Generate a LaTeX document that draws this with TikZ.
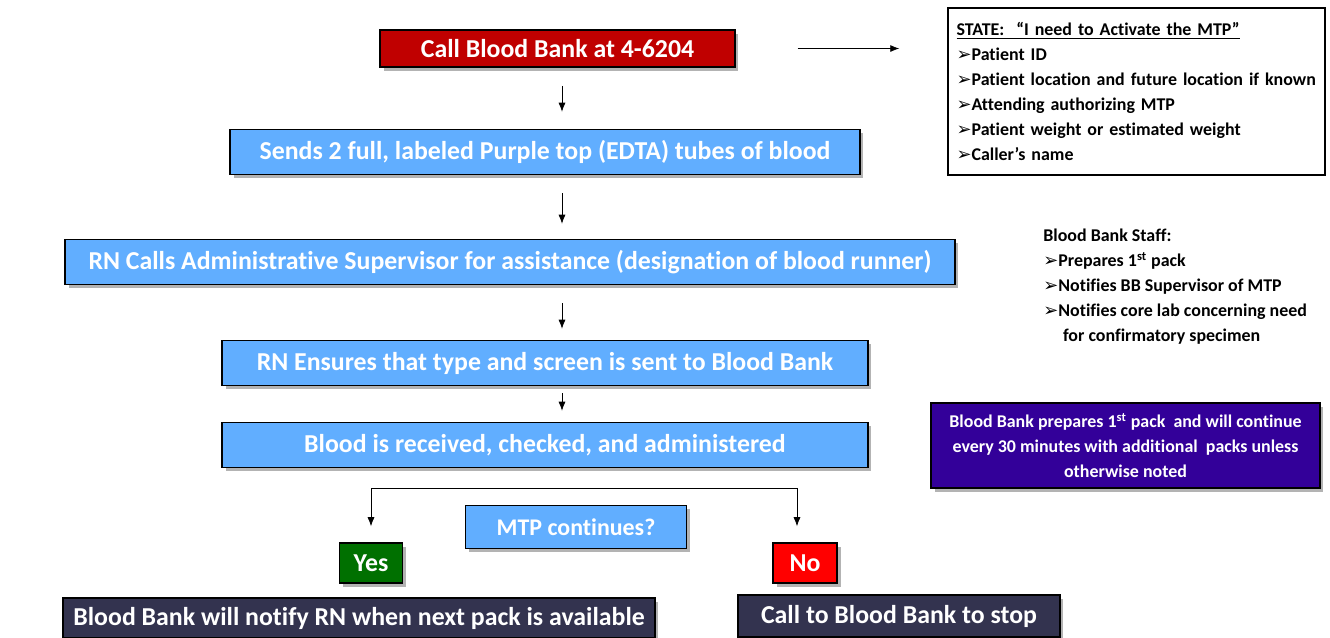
\documentclass[tikz,border=0pt]{standalone}
\usepackage{fontspec}
\setmainfont[Ligatures=NoCommon]{Carlito}
\newfontfamily\arrowfont{DejaVu Sans}
\usepackage{tikz}
\usetikzlibrary{arrows.meta,positioning,calc,shadows}

\definecolor{bbred}{HTML}{C00000}
\definecolor{bbblue}{HTML}{61AEFF}
\definecolor{bbnavy}{HTML}{33334F}
\definecolor{bbpurple}{HTML}{330099}
\definecolor{bbgreen}{HTML}{007000}
\definecolor{bbno}{HTML}{FF0000}

\newcommand{\bul}{{\arrowfont ➢}}

\begin{document}
\begin{tikzpicture}[x=0.02cm, y=-0.02cm,
    box/.style={draw=black, line width=0.9pt, text=white, inner sep=2pt,
      font=\fontsize{14.7}{17}\selectfont\bfseries,
      drop shadow={shadow xshift=2pt, shadow yshift=-2pt, opacity=0.6}},
    small/.style={font=\fontsize{10.2}{14.2}\selectfont\bfseries},
    arr/.style={-{Latex[length=1.8mm,width=1.4mm]}, thin}]
    \useasboundingbox (0,0) rectangle (1330,637);

    % main column
    \node[box, fill=bbred, minimum width=7.1cm, minimum height=0.74cm] (call) at (557.5,48.5) {Call Blood Bank at 4-6204};
    \node[box, fill=bbblue, minimum width=12.6cm, minimum height=0.9cm] (tubes) at (545,152) {Sends 2 full, labeled Purple top (EDTA) tubes of blood};
    \node[box, fill=bbblue, minimum width=17.8cm, minimum height=0.9cm] (super) at (510,262) {RN Calls Administrative Supervisor for assistance (designation of blood runner)};
    \node[box, fill=bbblue, minimum width=12.92cm, minimum height=0.9cm] (screen) at (545,363) {RN Ensures that type and screen is sent to Blood Bank};
    \node[box, fill=bbblue, minimum width=12.92cm, minimum height=0.9cm] (admin) at (545,445) {Blood is received, checked, and administered};

    % decision
    \node[box, fill=bbblue, minimum width=4.42cm, minimum height=0.86cm, font=\fontsize{13.6}{16}\selectfont\bfseries] (cont) at (576,527) {MTP continues?};
    \node[box, fill=bbgreen, minimum width=1.26cm, minimum height=0.8cm] (yes) at (371,563) {Yes};
    \node[box, fill=bbno, minimum width=1.28cm, minimum height=0.8cm] (no) at (805,563) {No};
    \node[box, fill=bbnavy, minimum width=11.84cm, minimum height=0.8cm] (notify) at (359,618) {Blood Bank will notify RN when next pack is available};
    \node[box, fill=bbnavy, minimum width=6.44cm, minimum height=0.84cm] (stop) at (899,616) {Call to Blood Bank to stop};

    % side notes
    \node[draw, line width=0.9pt, small, align=left, text width=7.2cm, inner xsep=0.17cm,
      minimum height=3.34cm] (state) at (1136.5,91.5) {%
      \underline{STATE:\ \ “I need to Activate the MTP”}\\
      \bul Patient ID\\
      \bul Patient location and future location if known\\
      \bul Attending authorizing MTP\\
      \bul Patient weight or estimated weight\\
      \bul Caller’s name};
    \node[small, align=left, anchor=north west, inner sep=0pt] (staff) at (1043,229) {%
      Blood Bank Staff:\\
      \bul Prepares 1\textsuperscript{st} pack\\
      \bul Notifies BB Supervisor of MTP\\
      \bul Notifies core lab concerning need\\
      \hspace{1.1em}for confirmatory specimen};
    \node[box, fill=bbpurple, small, align=center, minimum width=7.78cm, minimum height=1.7cm] (packs) at (1125.5,445.5) {%
      Blood Bank prepares 1\textsuperscript{st} pack\ \ and will continue\\
      every 30 minutes with additional\ \ packs unless\\
      otherwise noted};

    % connectors
    \coordinate (spine) at (562,0);
    \coordinate (fork) at (562,488);
    \draw[arr, shorten <=0.36cm, shorten >=0.34cm] (call.south -| spine) -- (tubes.north -| spine);
    \draw[arr, shorten <=0.36cm, shorten >=0.3cm] (tubes.south -| spine) -- (super.north -| spine);
    \draw[arr, shorten <=0.36cm, shorten >=0.22cm] (super.south -| spine) -- (screen.north -| spine);
    \draw[arr, shorten <=0.14cm, shorten >=0.22cm] (screen.south -| spine) -- (admin.north -| spine);
    \draw[arr, shorten <=1.24cm, shorten >=0.96cm] (call.east) -- (call.east -| state.west);
    \draw[arr, shorten >=0.32cm] (fork) -| (yes.north);
    \draw[arr, shorten >=0.32cm] (fork) -| ([xshift=-0.16cm]no.north);
\end{tikzpicture}
\end{document}
